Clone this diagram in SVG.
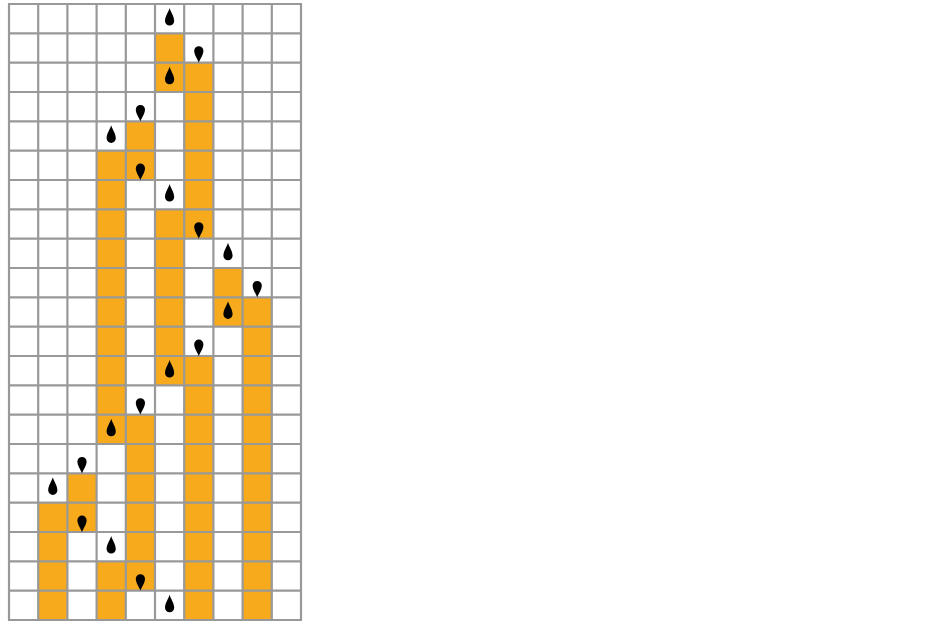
<svg xmlns="http://www.w3.org/2000/svg" xmlns:xlink="http://www.w3.org/1999/xlink" width="950" height="628" viewBox="0 0 950 628">
<style>
.cell{fill:#F6AA1C}
.grid{fill:none;stroke:#999999;stroke-width:2.2}
.drop{fill:#000000}
</style>
<defs>
<path id="up" class="drop" d="M0,-10 C1,-6 4.6,-2 4.6,3 A4.6,4.6 0 0 1 -4.6,3 C-4.6,-2 -1,-6 0,-10 Z"/>
<path id="down" class="drop" d="M0,9 C0.8,6 4.6,1.5 4.6,-3 A4.6,4.6 0 0 0 -4.6,-3 C-4.6,1.5 -0.8,6 0,9 Z"/>
</defs>
<rect width="950" height="628" fill="#ffffff"/>
<g id="cells">
<rect class="cell" x="38.2" y="502.67" width="29.2" height="117.33"/>
<rect class="cell" x="67.4" y="473.33" width="29.2" height="58.67"/>
<rect class="cell" x="96.6" y="150.67" width="29.2" height="293.33"/>
<rect class="cell" x="96.6" y="561.33" width="29.2" height="58.67"/>
<rect class="cell" x="125.8" y="121.33" width="29.2" height="58.67"/>
<rect class="cell" x="125.8" y="414.67" width="29.2" height="176"/>
<rect class="cell" x="155" y="33.33" width="29.2" height="58.67"/>
<rect class="cell" x="155" y="209.33" width="29.2" height="176"/>
<rect class="cell" x="184.2" y="62.67" width="29.2" height="176"/>
<rect class="cell" x="184.2" y="356" width="29.2" height="264"/>
<rect class="cell" x="213.4" y="268" width="29.2" height="58.67"/>
<rect class="cell" x="242.6" y="297.33" width="29.2" height="322.67"/>
</g>
<g id="grid">
<path class="grid" d="M9,4V620M38.2,4V620M67.4,4V620M96.6,4V620M125.8,4V620M155,4V620M184.2,4V620M213.4,4V620M242.6,4V620M271.8,4V620M301,4V620
M8,4H302M8,33.33H302M8,62.67H302M8,92H302M8,121.33H302M8,150.67H302M8,180H302M8,209.33H302M8,238.67H302M8,268H302M8,297.33H302M8,326.67H302M8,356H302M8,385.33H302M8,414.67H302M8,444H302M8,473.33H302M8,502.67H302M8,532H302M8,561.33H302M8,590.67H302M8,620H302"/>
</g>
<g id="drops">
<use xlink:href="#up" href="#up" x="169.6" y="18"/>
<use xlink:href="#up" href="#up" x="169.6" y="76.7"/>
<use xlink:href="#up" href="#up" x="111.2" y="135.3"/>
<use xlink:href="#up" href="#up" x="169.6" y="194"/>
<use xlink:href="#up" href="#up" x="228" y="252.7"/>
<use xlink:href="#up" href="#up" x="228" y="311.3"/>
<use xlink:href="#up" href="#up" x="169.6" y="370"/>
<use xlink:href="#up" href="#up" x="111.2" y="428.7"/>
<use xlink:href="#up" href="#up" x="52.8" y="487.3"/>
<use xlink:href="#up" href="#up" x="111.2" y="546"/>
<use xlink:href="#up" href="#up" x="169.6" y="604.7"/>
<use xlink:href="#down" href="#down" x="198.8" y="53.8"/>
<use xlink:href="#down" href="#down" x="140.4" y="112.5"/>
<use xlink:href="#down" href="#down" x="140.4" y="171.2"/>
<use xlink:href="#down" href="#down" x="198.8" y="229.8"/>
<use xlink:href="#down" href="#down" x="257.2" y="288.5"/>
<use xlink:href="#down" href="#down" x="198.8" y="347.2"/>
<use xlink:href="#down" href="#down" x="140.4" y="405.8"/>
<use xlink:href="#down" href="#down" x="82" y="464.5"/>
<use xlink:href="#down" href="#down" x="82" y="523.2"/>
<use xlink:href="#down" href="#down" x="140.4" y="581.8"/>
</g>
</svg>
